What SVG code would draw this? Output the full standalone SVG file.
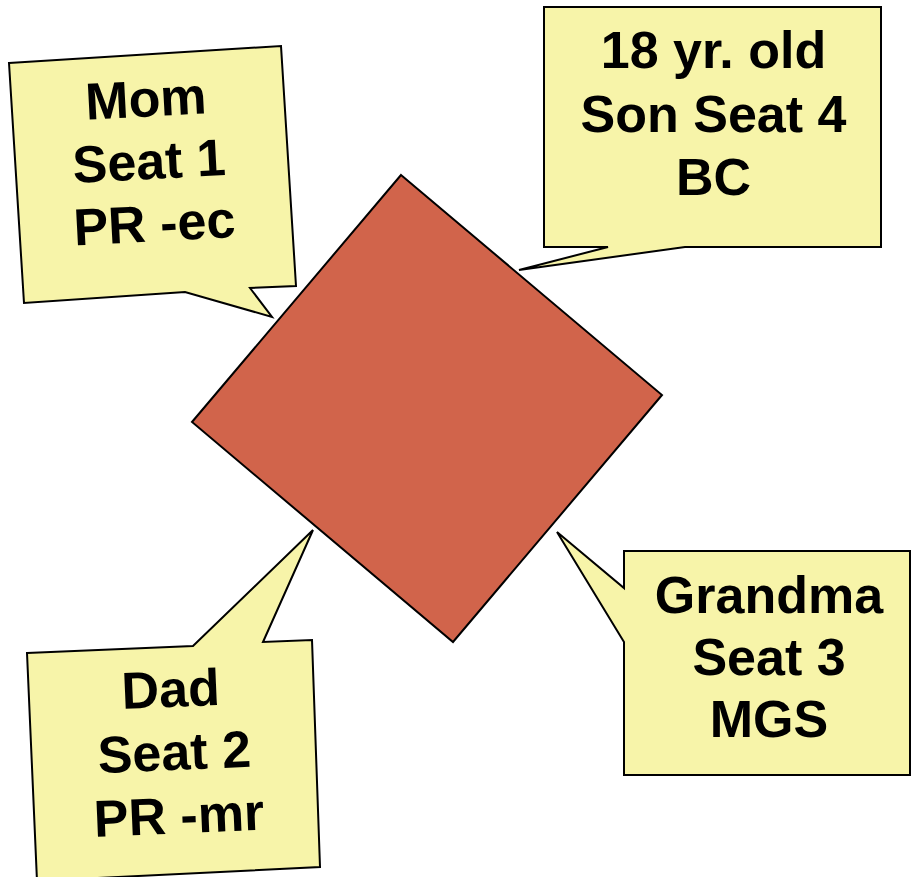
<svg xmlns="http://www.w3.org/2000/svg" width="913" height="877" viewBox="0 0 913 877">
  <style>
    .callout { fill: #F7F4A9; stroke: #000; stroke-width: 2; stroke-linejoin: miter; }
    .seat { fill: #D1644B; stroke: #000; stroke-width: 2; }
    .lbl { font-family: "Liberation Sans", Arial, sans-serif; font-weight: bold; font-size: 52px; fill: #000; text-anchor: middle; }
  </style>
  <rect width="913" height="877" fill="#fff"/>
  <g id="table">
    <polygon class="seat" points="401,175 662,395 453,642 192,422"/>
  </g>
  <g id="mom">
    <polygon class="callout" points="9,63 281,46 296,286 250,288 272,317 185,292 24,303"/>
    <g transform="rotate(-3 150 179)">
      <text class="lbl" x="150" y="116.5">Mom</text>
      <text class="lbl" x="150" y="179">Seat 1</text>
      <text class="lbl" x="152" y="241.5">PR -ec</text>
    </g>
  </g>
  <g id="son">
    <polygon class="callout" points="544,7 881,7 881,247 685,247 519,270 608,247 544,247"/>
    <text class="lbl" x="713.5" y="68">18 yr. old</text>
    <text class="lbl" x="713.5" y="131.5">Son Seat 4</text>
    <text class="lbl" x="713.5" y="195">BC</text>
  </g>
  <g id="dad">
    <polygon class="callout" points="27,653 193,646 313,530 263,642 312,640 320,867 37,881"/>
    <g transform="rotate(-2.4 174 770)">
      <text class="lbl" x="174" y="707">Dad</text>
      <text class="lbl" x="175" y="770">Seat 2</text>
      <text class="lbl" x="177" y="833.5">PR -mr</text>
    </g>
  </g>
  <g id="grandma">
    <polygon class="callout" points="624,551 910,551 910,775 624,775 624,642 557,532 624,588"/>
    <text class="lbl" x="769" y="613">Grandma</text>
    <text class="lbl" x="769" y="675">Seat 3</text>
    <text class="lbl" x="769" y="737">MGS</text>
  </g>
  <g id="connectors"></g>
</svg>
